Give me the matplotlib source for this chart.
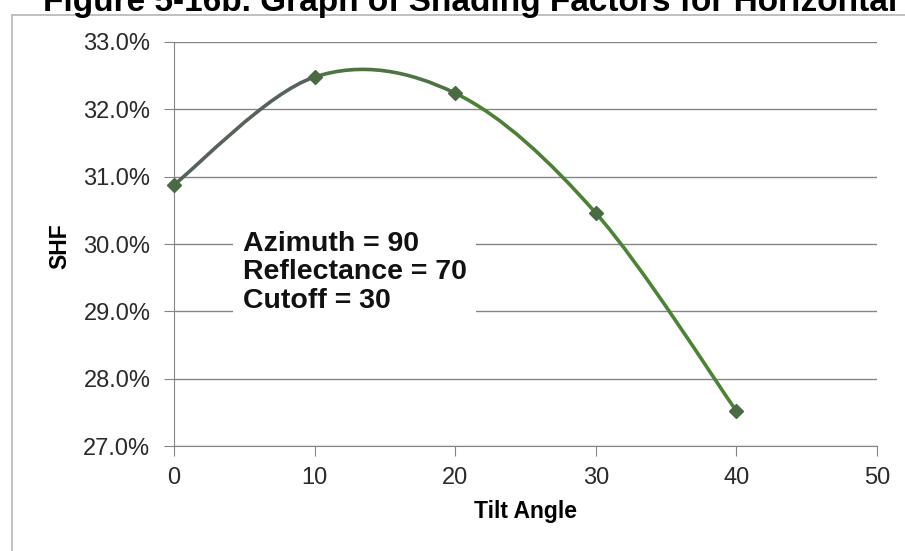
import matplotlib
matplotlib.use("Agg")
import matplotlib.pyplot as plt
from matplotlib.path import Path
from matplotlib.patches import PathPatch, Rectangle
from matplotlib.ticker import FuncFormatter, MultipleLocator

plt.rcParams['font.family'] = ['Liberation Sans', 'DejaVu Sans']

tilt = [0, 10, 20, 30, 40]
shf = [30.88, 32.48, 32.24, 30.46, 27.52]
title = "Figure 5-16b. Graph of Shading Factors for Horizontal"
note = "Azimuth = 90\nReflectance = 70\nCutoff = 30"

W, H = 905, 551
fig = plt.figure(figsize=(W / 100, H / 100), dpi=100)
fig.patch.set_facecolor('white')
# outer frame
fig.add_artist(Rectangle((12 / W, -0.01), 1.0, 1 - 15 / H + 0.01, transform=fig.transFigure,
                         fill=False, edgecolor='#b5b5b5', lw=1.2))
fig.text(43 / W, 1 - 11 / H, title, fontsize=24, fontweight='bold', ha='left', va='baseline')

ax = fig.add_axes([174 / W, 1 - 446 / H, (877 - 174) / W, (446 - 42) / H])
ax.set_xlim(0, 50)
ax.set_ylim(27, 33)
ax.xaxis.set_major_locator(MultipleLocator(10))
ax.yaxis.set_major_locator(MultipleLocator(1))
ax.yaxis.set_major_formatter(FuncFormatter(lambda v, p: f"{v:.1f}%"))
ax.grid(axis='y', color='#858585', lw=1)
ax.set_axisbelow(True)
for s in ['top', 'right']:
    ax.spines[s].set_visible(False)
for s in ['left', 'bottom']:
    ax.spines[s].set_color('#858585')
ax.tick_params(axis='both', colors='#858585', labelcolor='#2a2a2a', labelsize=17, length=7, direction='out')
ax.tick_params(axis='y', pad=10)
ax.tick_params(axis='x', pad=8)

ax.set_xlabel("Tilt Angle", fontsize=16.5, fontweight='bold', labelpad=8)
ax.set_ylabel("SHF", fontsize=16.5, fontweight='bold', va='center')
ax.yaxis.set_label_coords(-(174 - 60) / (877 - 174), (446 - 246) / (446 - 42))

# smoothed line (Catmull-Rom Bezier through the data points)
pts = list(zip(tilt, shf))
n = len(pts)
seg_colors = ['#56625a', '#4e7443', '#4b8035', '#4b8434']
for i in range(n - 1):
    p0 = pts[max(i - 1, 0)]
    p1 = pts[i]
    p2 = pts[i + 1]
    p3 = pts[min(i + 2, n - 1)]
    c1 = (p1[0] + (p2[0] - p0[0]) / 6, p1[1] + (p2[1] - p0[1]) / 6)
    c2 = (p2[0] - (p3[0] - p1[0]) / 6, p2[1] - (p3[1] - p1[1]) / 6)
    path = Path([p1, c1, c2, p2], [Path.MOVETO, Path.CURVE4, Path.CURVE4, Path.CURVE4])
    ax.add_patch(PathPatch(path, fill=False, edgecolor=seg_colors[i], lw=2.6, zorder=3,
                           capstyle='round', clip_on=False))
ax.plot(tilt, shf, linestyle='none', marker='D', markersize=7, color='#4a6a44', zorder=4, clip_on=False)

ax.text(4.9, 29.58, note, fontsize=20.5, fontweight='bold', ha='left', va='center',
        linespacing=1.12, color='#111111', zorder=5,
        bbox=dict(facecolor='white', edgecolor='none', pad=7))

fig.savefig("out.png", dpi=100)
